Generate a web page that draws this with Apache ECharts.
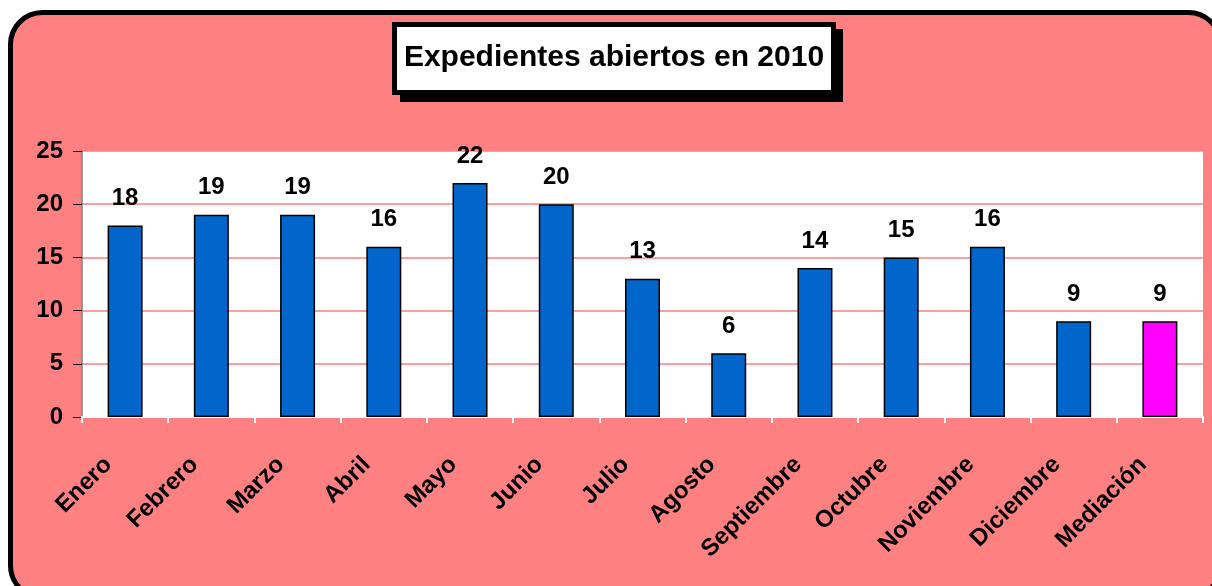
<!DOCTYPE html>
<html>
<head>
<meta charset="utf-8">
<title>Expedientes abiertos en 2010</title>
<script src="https://cdn.jsdelivr.net/npm/echarts@6/dist/echarts.min.js"></script>
<style>
  html, body { margin: 0; padding: 0; background: #fff; }
  #chart { width: 1212px; height: 586px; }
</style>
</head>
<body>
<div id="chart"></div>
<script>
// meses + mediación
var months = ['Enero', 'Febrero', 'Marzo', 'Abril', 'Mayo', 'Junio', 'Julio',
              'Agosto', 'Septiembre', 'Octubre', 'Noviembre', 'Diciembre', 'Mediación'];
var expedientes = [18, 19, 19, 16, 22, 20, 13, 6, 14, 15, 16, 9, 9];
var yTicks = [0, 5, 10, 15, 20, 25];

var font = 'Liberation Sans, Arial, sans-serif';

var barData = expedientes.map(function (v, i) {
    return {
        value: v,
        itemStyle: { color: months[i] === 'Mediación' ? '#FF00FF' : '#0066CC' }
    };
});

var myChart = echarts.init(document.getElementById('chart'));
myChart.setOption({
    backgroundColor: '#fff',
    animation: false,
    graphic: [
        // marco exterior redondeado
        { type: 'rect', z: -10, shape: { x: 10.5, y: 12.5, width: 1210, height: 585, r: 32 },
          style: { fill: '#FF8080', stroke: '#000', lineWidth: 5 } },
        // caja del título con sombra
        { type: 'rect', z: 10, shape: { x: 400, y: 29, width: 443, height: 73 },
          style: { fill: '#000' } },
        { type: 'rect', z: 11, shape: { x: 394.5, y: 24.5, width: 439, height: 68 },
          style: { fill: '#fff', stroke: '#000', lineWidth: 5 } },
        { type: 'text', z: 12, x: 614, y: 58,
          style: { text: 'Expedientes abiertos en 2010', font: 'bold 30px ' + font,
                   fill: '#000', align: 'center', verticalAlign: 'middle' } }
    ],
    grid: {
        left: 82, right: 9, top: 151, bottom: 169,
        show: true, backgroundColor: '#fff', borderWidth: 0
    },
    xAxis: {
        type: 'category',
        data: months,
        axisLine: { lineStyle: { color: '#fff', width: 2 } },
        axisTick: { show: true, length: 6, lineStyle: { color: '#fff', width: 2 } },
        axisLabel: {
            rotate: 45, margin: 27, interval: 0, padding: [0, 24, 0, 0],
            color: '#000', fontFamily: font, fontWeight: 'bold', fontSize: 24
        }
    },
    yAxis: {
        type: 'value',
        min: 0, max: 25, interval: 5,
        axisLine: { show: true, lineStyle: { color: '#808080', width: 1.5 } },
        axisTick: { show: true, length: 9, lineStyle: { color: '#000' } },
        axisLabel: {
            margin: 19, color: '#000', fontFamily: font, fontWeight: 'bold', fontSize: 24,
            formatter: function (v) { return yTicks.indexOf(v) >= 0 ? String(v) : ''; }
        },
        splitLine: { lineStyle: { color: '#FF8080', width: 1.5 } }
    },
    series: [{
        type: 'bar',
        data: barData,
        barWidth: 35,
        itemStyle: { borderColor: '#000', borderWidth: 1.5 },
        label: {
            show: true, position: 'top', distance: 15,
            color: '#000', fontFamily: font, fontWeight: 'bold', fontSize: 24
        }
    }]
});
</script>
</body>
</html>
